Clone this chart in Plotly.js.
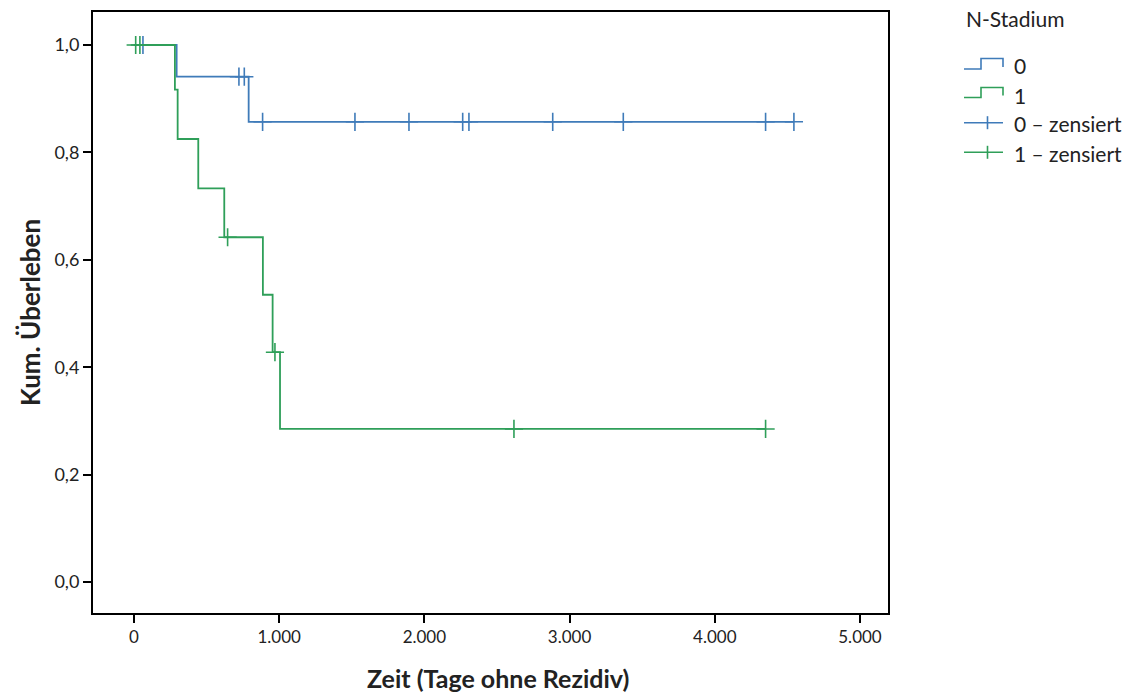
<!DOCTYPE html>
<html>
<head>
<meta charset="utf-8">
<script src="https://cdn.plot.ly/plotly-3.0.1.min.js"></script>
<style>html,body{margin:0;padding:0;background:#fff;}#chart{width:1134px;height:696px;}</style>
</head>
<body>
<div id="chart"></div>
<script>
// ---- Data ----
const seriesNames = ["0", "1"];
const legendTitle = "N-Stadium";
const censorLabels = ["0 – zensiert", "1 – zensiert"];
const xTitle = "Zeit (Tage ohne Rezidiv)";
const yTitle = "Kum. Überleben";

// N-Stadium 0: Kaplan-Meier step curve
const g0Time = [0, 294, 790, 4545];
const g0Surv = [1.0, 0.941, 0.857, 0.857];
// N-Stadium 0: censored observations
const g0CensTime = [62, 723, 760, 886, 1522, 1894, 2264, 2307, 2884, 3370, 4350, 4545];
const g0CensSurv = [1.0, 0.941, 0.941, 0.857, 0.857, 0.857, 0.857, 0.857, 0.857, 0.857, 0.857, 0.857];

// N-Stadium 1: Kaplan-Meier step curve
const g1Time = [0, 282, 301, 443, 622, 888, 955, 1006, 4350];
const g1Surv = [1.0, 0.917, 0.825, 0.733, 0.642, 0.535, 0.428, 0.285, 0.285];
// N-Stadium 1: censored observations
const g1CensTime = [12, 41, 645, 971, 2617, 4350];
const g1CensSurv = [1.0, 1.0, 0.642, 0.428, 0.285, 0.285];

const xTicks = [0, 1000, 2000, 3000, 4000, 5000];
const yTicks = [0, 0.2, 0.4, 0.6, 0.8, 1.0];

// ---- Styling ----
const BLUE = "#3f7bb9";
const GREEN = "#2f9f59";
const FONT = "Lato, 'Open Sans', sans-serif";
const TXT = "#222222";

// plot area in pixels
const PL = 93, PR = 888, PT = 12, PB = 613;
const px = x => (x - PL) / (PR - PL);
const py = y => (PB - y) / (PB - PT);

const traces = [
  {x: g0Time, y: g0Surv, mode: "lines", line: {shape: "hv", color: BLUE, width: 1.8}, name: seriesNames[0], showlegend: false, hoverinfo: "skip"},
  {x: g0CensTime, y: g0CensSurv, mode: "markers", marker: {symbol: "cross-thin", size: 13, line: {color: BLUE, width: 1.6}, color: BLUE}, name: censorLabels[0], showlegend: false, hoverinfo: "skip"},
  {x: g1Time, y: g1Surv, mode: "lines", line: {shape: "hv", color: GREEN, width: 1.8}, name: seriesNames[1], showlegend: false, hoverinfo: "skip"},
  {x: g1CensTime, y: g1CensSurv, mode: "markers", marker: {symbol: "cross-thin", size: 13, line: {color: GREEN, width: 1.6}, color: GREEN}, name: censorLabels[1], showlegend: false, hoverinfo: "skip"}
];

function stepIcon(yLow, yHigh, color) {
  return {type: "path", xref: "paper", yref: "paper",
    path: `M ${px(964)},${py(yLow)} L ${px(981)},${py(yLow)} L ${px(981)},${py(yHigh)} L ${px(1003)},${py(yHigh)} L ${px(1003)},${py(yLow - 2)}`,
    line: {color: color, width: 1.6}};
}
function censorIcon(yc, color) {
  return [
    {type: "line", xref: "paper", yref: "paper", x0: px(964), x1: px(1003), y0: py(yc), y1: py(yc), line: {color: color, width: 1.6}},
    {type: "line", xref: "paper", yref: "paper", x0: px(987.5), x1: px(987.5), y0: py(yc - 6.5), y1: py(yc + 6.5), line: {color: color, width: 1.6}}
  ];
}
function legText(t, yc, x, size) {
  return {text: t, xref: "paper", yref: "paper", x: px(x), y: py(yc), xanchor: "left", yanchor: "middle",
    showarrow: false, font: {family: FONT, size: size, color: TXT}};
}

const layout = {
  width: 1134, height: 696,
  margin: {l: PL, r: 1134 - PR, t: PT, b: 696 - PB},
  paper_bgcolor: "#ffffff", plot_bgcolor: "#ffffff",
  separators: ",.",
  showlegend: false,
  xaxis: {
    range: [-282, 5193], tickvals: xTicks, tickformat: ",d",
    showgrid: false, zeroline: false, showline: true, linecolor: "#000", linewidth: 2, mirror: true,
    ticks: "outside", ticklen: 8, tickwidth: 2, tickcolor: "#000",
    tickfont: {family: FONT, size: 17, color: TXT}
  },
  yaxis: {
    range: [-0.0577, 1.0615], tickvals: yTicks, tickformat: ".1f",
    showgrid: false, zeroline: false, showline: true, linecolor: "#000", linewidth: 2, mirror: true,
    ticks: "outside", ticklen: 8, tickwidth: 2, tickcolor: "#000",
    tickfont: {family: FONT, size: 18, color: TXT}
  },
  shapes: [
    stepIcon(69, 58.5, BLUE),
    stepIcon(97.5, 87.5, GREEN),
    ...censorIcon(122.7, BLUE),
    ...censorIcon(152.3, GREEN)
  ],
  annotations: [
    {text: xTitle, xref: "paper", yref: "paper", x: px(497.5), y: py(678), xanchor: "center", yanchor: "middle",
      showarrow: false, font: {family: FONT, size: 25, color: TXT, weight: "bold"}},
    {text: yTitle, xref: "paper", yref: "paper", x: px(30), y: py(313), xanchor: "center", yanchor: "middle", textangle: -90,
      showarrow: false, font: {family: FONT, size: 26, color: TXT, weight: "bold"}},
    legText(legendTitle, 19, 964, 21),
    legText(seriesNames[0], 65.5, 1012, 21),
    legText(seriesNames[1], 95, 1012, 21),
    legText(censorLabels[0], 124, 1012, 21),
    legText(censorLabels[1], 153, 1012, 21)
  ]
};

Plotly.newPlot("chart", traces, layout, {displayModeBar: false, staticPlot: true});
</script>
</body>
</html>
